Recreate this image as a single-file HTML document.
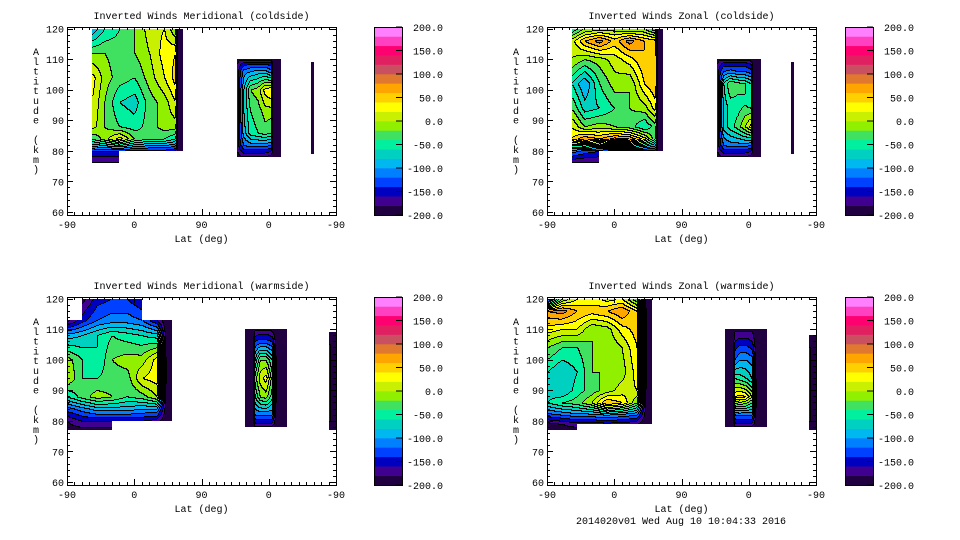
<!DOCTYPE html>
<html><head><meta charset="utf-8">
<style>
html,body{margin:0;padding:0;background:#fff;}
svg{display:block;font-family:"Liberation Mono","DejaVu Sans Mono",monospace;font-size:10px;}
</style></head>
<body>
<svg id="chart" width="960" height="540" viewBox="0 0 960 540" xmlns="http://www.w3.org/2000/svg">
<rect x="0" y="0" width="960" height="540" fill="#fff"/>
<text x="681" y="524" text-anchor="middle">2014020v01 Wed Aug 10 10:04:33 2016</text>
</svg>
<script>
const N = null;
const BANDS = ["#200040","#400090","#0000c0","#0040ff","#0080ff","#00b8f0","#00d0c0","#00f0a0","#40e060","#90f000","#c8f000","#ffff00","#ffd000","#ffa500","#e07830","#c85060","#e02060","#ff0070","#ff40c0","#ff80ff"];
const CB_TICKS = [200,150,100,50,0,-50,-100,-150,-200];
const X_TICK_LABELS = ["-90","0","90","0","-90"];
const Y_TICKS = [60,70,80,90,100,110,120];
const TITLES = ["Inverted Winds Meridional (coldside)","Inverted Winds Zonal (coldside)","Inverted Winds Meridional (warmside)","Inverted Winds Zonal (warmside)"];

// Panel 1 (meridional coldside)
const p1aU = [33,50,70,90,110,130,145,148,155];
const p1aAlt = [120,112,104,96,88,84,80,76];
const p1aV = [
 [-100,-60,-40,-20,10,20,-20,-200,-200],
 [-20,-20,-30,-20,0,30,40,-200,-200],
 [30,-10,-30,-40,-10,20,50,-200,-200],
 [20,-20,-60,-70,-30,-10,20,-200,-200],
 [10,-20,-40,-50,-30,-10,-10,-200,-200],
 [-40,-10,30,-20,-40,-40,-60,-200,-200],
 [-140,-140,-140,-150,-150,-150,-160,-200,-200],
 [-185,-185,-185,N,N,N,N,N,N]];
const p1bU = [227,230,236,245,255,265,273,275,286];
const p1bAlt = [110,108.5,106,100,93,86,82,80,78];
const p1bV = [
 [-185,-185,-185,-185,-185,-185,-190,-200,-200],
 [-185,-170,-150,-140,-140,-140,-150,-200,-200],
 [-185,-150,-110,-100,-90,-90,-110,-200,-200],
 [-185,-140,-80,-20,-10,30,40,-200,-200],
 [-185,-140,-80,-40,-30,-10,-10,-200,-200],
 [-185,-140,-90,-50,-40,-30,-40,-200,-200],
 [-185,-150,-120,-110,-110,-110,-120,-200,-200],
 [-185,-170,-150,-150,-150,-150,-160,-200,-200],
 [-185,-185,-185,-185,-185,-185,-190,-200,-200]];
const p1cU = [327,330];
const p1cAlt = [109,79];
const p1cV = [[-200,-200],[-200,-200]];

// Panel 2 (zonal coldside)
const p2aU = [33,50,70,90,110,130,145,148,155];
const p2aAlt = [120,116,110,102,94,88,84,80,76];
const p2aV = [
 [-60,-20,-10,-10,-20,-20,-60,-200,-200],
 [10,60,90,50,90,60,50,-200,-200],
 [0,-20,-10,10,30,60,60,-200,-200],
 [-60,-100,-40,-10,-20,40,60,-200,-200],
 [-20,-70,-60,-40,-20,-10,30,-200,-200],
 [20,-20,-10,-20,-30,-60,-30,-200,-200],
 [40,80,60,90,80,30,-40,-200,-200],
 [-110,-130,-140,-150,-150,-150,-150,-200,-200],
 [-185,-185,-185,N,N,N,N,N,N]];
const p2bU = [227,230,236,245,255,265,273,275,286];
const p2bAlt = [110,108.5,106,102,95,88,82,80,78];
const p2bV = [
 [-185,-185,-185,-185,-185,-185,-190,-200,-200],
 [-185,-170,-150,-150,-150,-150,-160,-200,-200],
 [-185,-150,-120,-110,-120,-120,-130,-200,-200],
 [-185,-140,-60,-20,-30,-40,-60,-200,-200],
 [-185,-140,-70,-50,-50,-40,-50,-200,-200],
 [-185,-140,-70,-50,-30,0,30,-200,-200],
 [-185,-150,-120,-110,-110,-110,-120,-200,-200],
 [-185,-170,-150,-150,-150,-150,-160,-200,-200],
 [-185,-185,-185,-185,-185,-185,-190,-200,-200]];
const p2cU = [327,330];
const p2cAlt = [109,79];
const p2cV = [[-200,-200],[-200,-200]];

// Panel 3 (meridional warmside)
const p3aU = [0,20,40,60,80,100,120,133,141];
const p3aAlt = [120,113,108,100,94,88,84,80,77];
const p3aV = [
 [N,-190,-150,-140,-140,-160,N,N,N],
 [-190,-150,-120,-110,-110,-120,-160,-200,-200],
 [-90,-80,-60,-40,-50,-60,-70,-200,-200],
 [-10,-40,-60,-20,-10,-10,30,-200,-200],
 [0,-40,-40,-30,-30,20,30,-200,-200],
 [-60,-30,-10,-20,-40,-30,0,-200,-200],
 [-130,-110,-90,-90,-90,-100,-100,-200,-200],
 [-180,-160,-160,-160,-160,-160,-170,-200,-200],
 [-190,-190,-190,-190,N,N,N,N,N]];
const p3bU = [238,248,251,258,266,274,280,294];
const p3bAlt = [110,108.5,106,100,94,88,82,80,78];
const p3bV = [
 [-200,-200,-185,-185,-185,-185,-200,-200],
 [-200,-200,-170,-160,-160,-170,-200,-200],
 [-200,-200,-140,-130,-130,-140,-200,-200],
 [-200,-200,-80,-20,-20,-60,-200,-200],
 [-200,-200,-30,10,30,-30,-200,-200],
 [-200,-200,-60,-20,-10,-50,-200,-200],
 [-200,-200,-120,-120,-120,-120,-200,-200],
 [-200,-200,-150,-150,-150,-150,-200,-200],
 [-200,-200,-185,-185,-185,-185,-200,-200]];
const p3cU = [350,354,360];
const p3cAlt = [109,105,80,77];
const p3cV = [[-190,-200,-200],[-170,-200,-200],[-170,-200,-200],[-190,-200,-200]];

// Panel 4 (zonal warmside)
const p4aU = [0,20,40,60,80,100,120,133,141];
const p4aAlt = [120,116,110,104,96,90,86,82,79,77];
const p4aV = [
 [-150,-20,20,30,10,20,-40,-200,-200],
 [80,90,60,50,60,80,40,-200,-200],
 [30,20,20,-20,-10,30,50,-200,-200],
 [-20,-40,-40,-20,-20,0,40,-200,-200],
 [-60,-80,-60,-20,-20,-10,30,-200,-200],
 [-70,-80,-50,-30,-10,10,20,-200,-200],
 [-60,-40,-30,0,60,40,-20,-200,-200],
 [-130,-120,-110,-110,-100,-110,-120,-200,-200],
 [-190,-180,-170,-170,-170,-170,-180,-200,-200],
 [-190,-190,-190,N,N,N,N,N,N]];
const p4bU = [238,248,251,258,266,274,280,294];
const p4bAlt = [110,108.5,106,100,94,88,82,80,78];
const p4bV = [
 [-200,-200,-185,-185,-185,-185,-200,-200],
 [-200,-200,-175,-170,-170,-175,-200,-200],
 [-200,-200,-160,-150,-150,-160,-200,-200],
 [-200,-200,-120,-100,-100,-110,-200,-200],
 [-200,-200,-40,-50,-60,-80,-200,-200],
 [-200,-200,40,50,40,0,-200,-200],
 [-200,-200,-120,-120,-120,-120,-200,-200],
 [-200,-200,-150,-150,-150,-150,-200,-200],
 [-200,-200,-185,-185,-185,-185,-200,-200]];
const p4cU = [350,354,360];
const p4cAlt = [108,104,80,77];
const p4cV = [[-190,-200,-200],[-170,-200,-200],[-170,-200,-200],[-190,-200,-200]];

const PANELS = [
 {L:67,T:27,cb:374,blocks:[[p1aU,p1aAlt,p1aV],[p1bU,p1bAlt,p1bV],[p1cU,p1cAlt,p1cV]]},
 {L:547,T:27,cb:845,blocks:[[p2aU,p2aAlt,p2aV],[p2bU,p2bAlt,p2bV],[p2cU,p2cAlt,p2cV]]},
 {L:67,T:297,cb:374,blocks:[[p3aU,p3aAlt,p3aV],[p3bU,p3bAlt,p3bV],[p3cU,p3cAlt,p3cV]]},
 {L:547,T:297,cb:845,blocks:[[p4aU,p4aAlt,p4aV],[p4bU,p4bAlt,p4bV],[p4cU,p4cAlt,p4cV]]}
];
const W=269, H=188, AMAX=120.5, AMIN=59;
const NS="http://www.w3.org/2000/svg";
const svg=document.getElementById('chart');
function mk(tag,attrs,parent){const e=document.createElementNS(NS,tag);for(const k in attrs)e.setAttribute(k,attrs[k]);(parent||svg).appendChild(e);return e;}
function xs(P,u){return P.L+u/360*W;}
function ys(P,a){return P.T+(AMAX-a)/(AMAX-AMIN)*H;}
function us(P,x){return (x-P.L)/W*360;}
function as(P,y){return AMAX-(y-P.T)/H*(AMAX-AMIN);}
function interp(U,A,V,u,a){
  if(u<U[0]||u>U[U.length-1]||a>A[0]||a<A[A.length-1])return null;
  let i=0;while(i<U.length-2&&u>U[i+1])i++;
  let j=0;while(j<A.length-2&&a<A[j+1])j++;
  const v00=V[j][i],v01=V[j][i+1],v10=V[j+1][i],v11=V[j+1][i+1];
  if(v00===null||v01===null||v10===null||v11===null)return null;
  const tx=(u-U[i])/(U[i+1]-U[i]), ty=(A[j]-a)/(A[j]-A[j+1]);
  return (v00*(1-tx)+v01*tx)*(1-ty)+(v10*(1-tx)+v11*tx)*ty;
}
function band(v){let b=Math.floor((v+200)/20);return Math.max(0,Math.min(19,b));}
function drawBlock(g,P,U,A,V){
  const x0=Math.floor(xs(P,U[0])),x1=Math.ceil(xs(P,U[U.length-1]));
  const y0=Math.floor(ys(P,A[0])),y1=Math.ceil(ys(P,A[A.length-1]));
  const B=[];
  for(let y=y0;y<y1;y++){const row=[];for(let x=x0;x<x1;x++){const v=interp(U,A,V,us(P,x+0.5),as(P,y+0.5));row.push(v===null?-1:band(v));}B.push(row);}
  for(let r=0;r<B.length;r++){
    let runC=null,runS=0;
    const cols=B[r].map((b,c)=>{
      if(b<0)return null;
      const l=c>0?B[r][c-1]:-1, t=r>0?B[r-1][c]:-1;
      if((l>=0&&l!==b)||(t>=0&&t!==b))return "#000";
      return BANDS[b];
    });
    cols.push(null);
    for(let c=0;c<cols.length;c++){
      if(cols[c]!==runC){
        if(runC){const e=mk('rect',{x:x0+runS,y:y0+r,width:c-runS,height:1,fill:runC},g);
          
          }
        runC=cols[c];runS=c;
      }
    }
  }
}
PANELS.forEach((P,pi)=>{
  const g=mk('g',{});
  
  
  const t=mk('text',{x:P.L+W/2,y:P.T-8,'text-anchor':'middle'},g);t.textContent=TITLES[pi];
  
  
  const fg=mk('g',{},g);
  
  
  P.blocks.forEach(b=>drawBlock(fg,P,b[0],b[1],b[2]));
  const fr=mk('rect',{x:P.L+0.5,y:P.T+0.5,width:W,height:H,fill:'none',stroke:'#000','stroke-width':1},g);
  
  
  for(let u=0;u<=360;u+=10){
    const x=Math.round(xs(P,u))+0.5,len=u%90===0?6:3;
    mk('line',{x1:x,x2:x,y1:P.T+H,y2:P.T+H-len,stroke:'#000'},g);
    mk('line',{x1:x,x2:x,y1:P.T,y2:P.T+len,stroke:'#000'},g);
  }
  X_TICK_LABELS.forEach((s,i)=>{const e=mk('text',{x:xs(P,i*90),y:P.T+H+13,'text-anchor':'middle'},g);e.textContent=s;
    
    });
  for(let a=60;a<=120;a+=2){
    const y=Math.round(ys(P,a))+0.5,len=a%10===0?6:3;
    mk('line',{x1:P.L,x2:P.L+len,y1:y,y2:y,stroke:'#000'},g);
    mk('line',{x1:P.L+W,x2:P.L+W-len,y1:y,y2:y,stroke:'#000'},g);
  }
  Y_TICKS.forEach(a=>{const e=mk('text',{x:P.L-3,y:ys(P,a)+4,'text-anchor':'end'},g);e.textContent=String(a);
    
    });
  const xl=mk('text',{x:P.L+W/2,y:P.T+H+27,'text-anchor':'middle'},g);xl.textContent='Lat (deg)';
  
  
  const yl=mk('text',{x:P.L-31,y:P.T+25,'text-anchor':'middle'},g);
  
  
  'Altitude (km)'.split('').forEach((ch,i)=>{const s=mk('tspan',{x:P.L-31,y:P.T+28+i*9.8},yl);s.textContent=ch;});
  const cg=mk('g',{},g);
  
  
  const bh=H/BANDS.length;
  BANDS.forEach((c,i)=>{const e=mk('rect',{x:P.cb,y:P.T+H-(i+1)*bh,width:28,height:bh+0.3,fill:c},cg);
    
    });
  mk('rect',{x:P.cb+0.5,y:P.T+0.5,width:28,height:H,fill:'none',stroke:'#000'},cg);
  CB_TICKS.forEach(v=>{const y=P.T+(200-v)/400*H;
    mk('line',{x1:P.cb+22,x2:P.cb+28,y1:y,y2:y,stroke:'#000'},cg);
    const e=mk('text',{x:P.cb+69,y:y+4,'text-anchor':'end'},cg);e.textContent=v.toFixed(1);
    
    });
});
</script>
</body></html>
